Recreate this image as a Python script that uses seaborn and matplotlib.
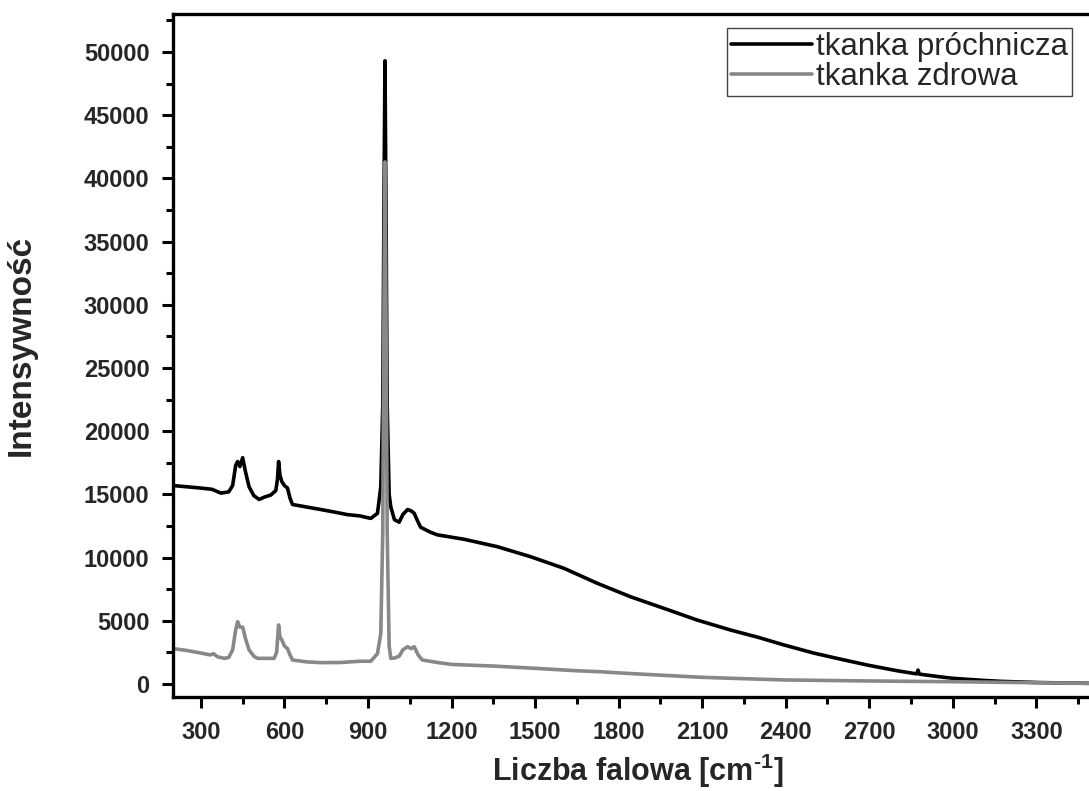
import numpy as np
import pandas as pd
import matplotlib
matplotlib.use("Agg")
import matplotlib.pyplot as plt
from matplotlib.ticker import MultipleLocator
import seaborn as sns

# --- data ---
wn_caries = [200, 250, 300, 340, 372, 400, 414, 425, 432, 440, 450, 460, 473, 490, 509,
             530, 551, 569, 575, 579, 584, 591, 600, 611, 620, 629, 680, 731, 780, 826,
             870, 910, 934, 946, 953, 958, 961, 964, 969, 976, 982, 995, 1012, 1025,
             1042, 1055, 1066, 1078, 1089, 1125, 1149, 1245, 1365, 1484, 1604, 1723,
             1843, 1962, 2082, 2202, 2300, 2392, 2500, 2600, 2693, 2800, 2870, 2875,
             2880, 2950, 3000, 3100, 3173, 3300, 3400, 3500]
int_caries = [15700, 15600, 15500, 15400, 15100, 15200, 15700, 17300, 17600, 17200,
              17900, 16800, 15600, 14900, 14600, 14800, 14950, 15300, 16200, 17600,
              16500, 16000, 15700, 15500, 14700, 14200, 14000, 13800, 13600, 13400,
              13300, 13100, 13500, 15600, 22000, 40000, 49300, 40000, 22000, 15000,
              14000, 13000, 12800, 13400, 13800, 13700, 13500, 12900, 12400, 12000,
              11800, 11450, 10860, 10070, 9150, 7970, 6900, 5990, 5060, 4270, 3700,
              3100, 2450, 1950, 1500, 1050, 800, 1100, 780, 580, 450, 300, 210, 120,
              80, 50]

wn_healthy = [200, 250, 300, 333, 345, 360, 384, 400, 414, 425, 432, 440, 450, 460, 473,
              490, 503, 563, 572, 579, 584, 591, 600, 611, 620, 629, 680, 731, 800, 870,
              910, 934, 946, 953, 958, 961, 964, 969, 976, 982, 995, 1012, 1025, 1042,
              1055, 1066, 1080, 1095, 1150, 1200, 1257, 1350, 1500, 1650, 1735, 1800,
              1950, 2100, 2250, 2400, 2550, 2700, 2850, 3000, 3150, 3300, 3500]
int_healthy = [2800, 2650, 2450, 2300, 2400, 2150, 2030, 2100, 2700, 4300, 4930, 4500,
               4500, 3600, 2700, 2200, 2030, 2030, 2500, 4670, 3700, 3480, 3000, 2800,
               2300, 1900, 1750, 1690, 1700, 1800, 1800, 2400, 4000, 12000, 32000, 41300,
               32000, 12000, 3000, 2030, 2050, 2200, 2700, 2950, 2800, 2950, 2300, 1900,
               1700, 1550, 1500, 1420, 1240, 1050, 970, 880, 700, 530, 420, 320, 280,
               240, 210, 180, 140, 100, 50]

series_names = ["tkanka próchnicza", "tkanka zdrowa"]
x_ticks = [300, 600, 900, 1200, 1500, 1800, 2100, 2400, 2700, 3000, 3300]
y_ticks = [0, 5000, 10000, 15000, 20000, 25000, 30000, 35000, 40000, 45000, 50000]

df = pd.concat([
    pd.DataFrame({"wn": wn_caries, "val": int_caries, "series": series_names[0]}),
    pd.DataFrame({"wn": wn_healthy, "val": int_healthy, "series": series_names[1]}),
], ignore_index=True)

sns.set_style("ticks")
plt.rcParams["font.family"] = ["Liberation Sans", "DejaVu Sans"]
plt.rcParams["mathtext.fontset"] = "custom"
plt.rcParams["mathtext.rm"] = "Liberation Sans:bold"
plt.rcParams["mathtext.bf"] = "Liberation Sans:bold"

fig = plt.figure(figsize=(10.89, 7.91), dpi=100)
ax = fig.add_axes([0.1589, 0.1188, 0.8439, 0.8635])

sns.lineplot(data=df, x="wn", y="val", hue="series", hue_order=series_names,
             palette=["#000000", "#888888"], linewidth=2.6, ax=ax, sort=False,
             estimator=None)

ax.set_xlim(200, 3500)
ax.set_ylim(-1030, 53000)
ax.set_xticks(x_ticks)
ax.set_yticks(y_ticks)
ax.xaxis.set_minor_locator(MultipleLocator(150))
ax.yaxis.set_minor_locator(MultipleLocator(2500))
ax.tick_params(axis="both", which="major", direction="out", length=8, width=2.2,
               labelsize=17, color="black", pad=9)
ax.tick_params(axis="both", which="minor", direction="out", length=5, width=2.2,
               color="black")
for lab in ax.get_xticklabels() + ax.get_yticklabels():
    lab.set_fontweight("bold")

for side in ["left", "bottom", "top"]:
    ax.spines[side].set_linewidth(2.4)
    ax.spines[side].set_color("black")
ax.spines["right"].set_visible(False)
ax.spines["top"].set_visible(True)

ax.set_xlabel("Liczba falowa [cm$^{\\mathrm{\u2010}1}$]", fontsize=22, fontweight="bold")
ax.xaxis.set_label_coords(0.506, -0.08)
ax.set_ylabel("Intensywność", fontsize=24, fontweight="bold")
ax.yaxis.set_label_coords(-0.148, 0.515)

leg = ax.legend(loc="upper right", bbox_to_anchor=(0.978, 0.9795), borderaxespad=0,
                frameon=True, fancybox=False, framealpha=1, edgecolor="#444444",
                fontsize=22.5, handlelength=2.6, handletextpad=0.12, borderpad=0.12,
                labelspacing=0.0)
leg.get_frame().set_linewidth(1.0)
for line in leg.get_lines():
    line.set_linewidth(2.6)

fig.savefig("out.png", dpi=100, facecolor="white")
